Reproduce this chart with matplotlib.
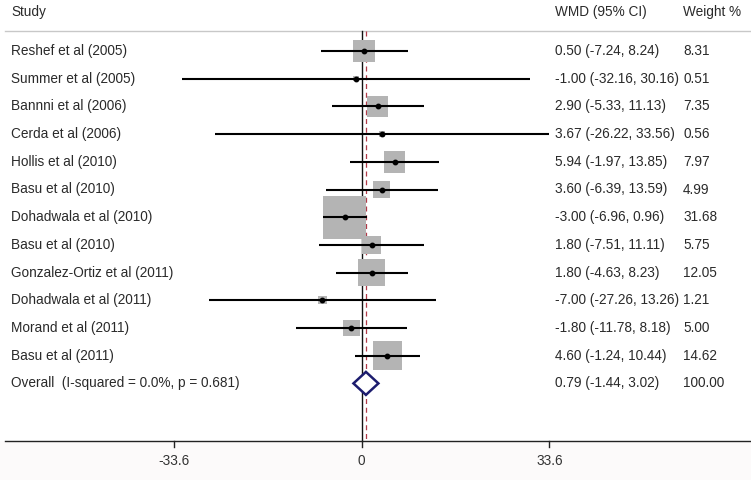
import matplotlib
matplotlib.use("Agg")
import matplotlib.pyplot as plt
from matplotlib.patches import Rectangle, Polygon
from matplotlib.transforms import blended_transform_factory

plt.rcParams['font.family'] = ['Liberation Sans', 'DejaVu Sans']

studies = ["Reshef et al (2005)", "Summer et al (2005)", "Bannni et al (2006)",
           "Cerda et al (2006)", "Hollis et al (2010)", "Basu et al (2010)",
           "Dohadwala et al (2010)", "Basu et al (2010)", "Gonzalez-Ortiz et al (2011)",
           "Dohadwala et al (2011)", "Morand et al (2011)", "Basu et al (2011)"]
wmd = [0.50, -1.00, 2.90, 3.67, 5.94, 3.60, -3.00, 1.80, 1.80, -7.00, -1.80, 4.60]
ci_lo = [-7.24, -32.16, -5.33, -26.22, -1.97, -6.39, -6.96, -7.51, -4.63, -27.26, -11.78, -1.24]
ci_hi = [8.24, 30.16, 11.13, 33.56, 13.85, 13.59, 0.96, 11.11, 8.23, 13.26, 8.18, 10.44]
weights = [8.31, 0.51, 7.35, 0.56, 7.97, 4.99, 31.68, 5.75, 12.05, 1.21, 5.00, 14.62]
overall_label = "Overall  (I-squared = 0.0%, p = 0.681)"
overall = (0.79, -1.44, 3.02)
overall_weight = 100.00
xticks = [-33.6, 0, 33.6]

W, H = 751, 480
PX_PER_UNIT = 5.595   # horizontal pixels per WMD unit
X0_PX = 361.5         # pixel of WMD = 0
ROW0_PX, ROW_PX = 51.0, 27.7
BOX_K = 7.6           # box side in px per sqrt(weight)
NAME_X, WMD_X, WT_X = 11, 555, 683
FS = 9.8

fig = plt.figure(figsize=(W / 100, H / 100), dpi=100)
ax = fig.add_axes([0, 0, 1, 1])
ax.set_xlim(-X0_PX / PX_PER_UNIT, (W - X0_PX) / PX_PER_UNIT)
ax.set_ylim((H - ROW0_PX) / ROW_PX, -ROW0_PX / ROW_PX)
ax.axis("off")

def px_y(p):
    return (p - ROW0_PX) / ROW_PX

tr = blended_transform_factory(ax.transAxes, ax.transData)
txt = dict(fontsize=FS, color="#2a2a2a", va="center", transform=tr)

# header
ax.text(NAME_X / W, px_y(12), "Study", **txt)
ax.text(WMD_X / W, px_y(12), "WMD (95% CI)", **txt)
ax.text(WT_X / W, px_y(12), "Weight %", **txt)
ax.plot([5 / W, 1], [px_y(30.5)] * 2, color="#c8c8c8", lw=1, transform=tr)

# background below the axis
ax.add_patch(Rectangle((0, px_y(441)), 1, px_y(480) - px_y(441), transform=tr,
                       facecolor="#fcfafa", edgecolor="none", zorder=0))

# reference lines
ax.plot([0, 0], [px_y(30.5), px_y(441)], color="#111111", lw=1, zorder=2)
ax.plot([overall[0]] * 2, [px_y(30.5), px_y(441)], color="#b03a48", lw=0.9,
        ls=(0, (4, 3)), zorder=2)

for i, (name, m, lo, hi, w) in enumerate(zip(studies, wmd, ci_lo, ci_hi, weights)):
    side = BOX_K * w ** 0.5
    bw, bh = side / PX_PER_UNIT, side / ROW_PX
    ax.add_patch(Rectangle((m - bw / 2, i - bh / 2), bw, bh,
                           facecolor="#b4b4b4", edgecolor="none", zorder=3))
    ax.plot([lo, hi], [i, i], color="#000000", lw=1.5, zorder=4, solid_capstyle="butt")
    ax.plot(m, i, "o", color="#000000", ms=3.2, zorder=5)
    ax.text(NAME_X / W, i, name, **txt)
    ax.text(WMD_X / W, i, f"{m:.2f} ({lo:.2f}, {hi:.2f})", **txt)
    ax.text(WT_X / W, i, f"{w:.2f}", **txt)

# overall diamond
k = len(studies)
half_h = 11.5 / ROW_PX
m, lo, hi = overall
ax.add_patch(Polygon([(lo, k), (m, k - half_h), (hi, k), (m, k + half_h)], closed=True,
                     facecolor="white", edgecolor="#1c1c6e", lw=1.8, zorder=5))
ax.text(NAME_X / W, k, overall_label, **txt)
ax.text(WMD_X / W, k, f"{m:.2f} ({lo:.2f}, {hi:.2f})", **txt)
ax.text(WT_X / W, k, f"{overall_weight:.2f}", **txt)

# x axis
ax.plot([5 / W, 1], [px_y(441)] * 2, color="#222222", lw=1, transform=tr, zorder=6)
for t in xticks:
    ax.plot([t, t], [px_y(441), px_y(447)], color="#222222", lw=1, zorder=6)
    ax.text(t, px_y(461), f"{t:g}", fontsize=FS, color="#333333",
            ha="center", va="center")

fig.savefig("out.png", dpi=100)
